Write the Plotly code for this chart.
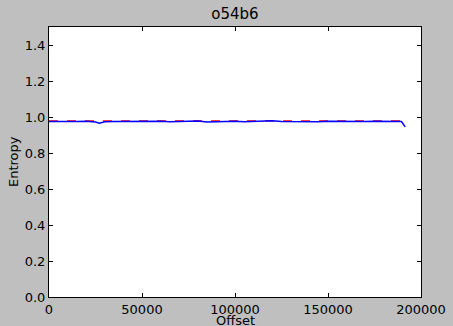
import plotly.graph_objects as go

offsets = [0, 5000, 10000, 15000, 20000, 25000, 27000, 30000, 35000, 40000, 45000, 50000,
           55000, 60000, 65000, 70000, 75000, 80000, 85000, 90000, 95000, 100000,
           105000, 110000, 115000, 120000, 125000, 130000, 135000, 140000, 145000,
           150000, 155000, 160000, 165000, 170000, 175000, 180000, 185000, 189500, 191500]
entropy = [0.975, 0.974, 0.976, 0.975, 0.976, 0.972, 0.966, 0.973, 0.975, 0.976, 0.975, 0.977,
           0.975, 0.976, 0.974, 0.976, 0.975, 0.978, 0.972, 0.974, 0.976, 0.977,
           0.973, 0.976, 0.975, 0.979, 0.975, 0.974, 0.976, 0.975, 0.974,
           0.976, 0.975, 0.976, 0.974, 0.975, 0.976, 0.975, 0.976, 0.975, 0.945]
ref_x = [0, 190000]
ref_y = [0.979, 0.979]

fig = go.Figure()
fig.add_trace(go.Scatter(x=ref_x, y=ref_y, mode="lines",
                         line=dict(color="#ff0000", width=1.3, dash="dash"), showlegend=False))
fig.add_trace(go.Scatter(x=offsets, y=entropy, mode="lines",
                         line=dict(color="#0000ff", width=1.5), showlegend=False))

font = dict(family="DejaVu Sans", size=13, color="black")
axis_common = dict(showline=True, linecolor="black", linewidth=1, mirror="allticks",
                   ticks="inside", ticklen=4, tickcolor="black", showgrid=False, zeroline=False,
                   tickfont=font, automargin=False)
fig.update_xaxes(range=[0, 200000], tickvals=[0, 50000, 100000, 150000, 200000],
                 ticktext=["0", "50000", "100000", "150000", "200000"], **axis_common)
fig.update_yaxes(range=[0, 1.5], tickvals=[0, 0.2, 0.4, 0.6, 0.8, 1.0, 1.2, 1.4],
                 ticktext=["0.0", "0.2", "0.4", "0.6", "0.8", "1.0", "1.2", "1.4"], **axis_common)
fig.update_layout(width=453, height=326, margin=dict(l=49, r=32, t=27, b=29),
                  paper_bgcolor="#bfbfbf", plot_bgcolor="white",
                  title=dict(text="o54b6", x=0.5, xref="paper", xanchor="center", y=1-14/326, yanchor="middle",
                             font=dict(family="DejaVu Sans", size=15, color="black")),
                  annotations=[
                      dict(text="Offset", xref="paper", yref="paper", x=0.5, y=-23/270,
                           xanchor="center", yanchor="middle", showarrow=False, font=font),
                      dict(text="Entropy", xref="paper", yref="paper", x=-36/372, y=0.5,
                           xanchor="center", yanchor="middle", showarrow=False, textangle=-90, font=font),
                  ])
fig.write_html("out.html")
